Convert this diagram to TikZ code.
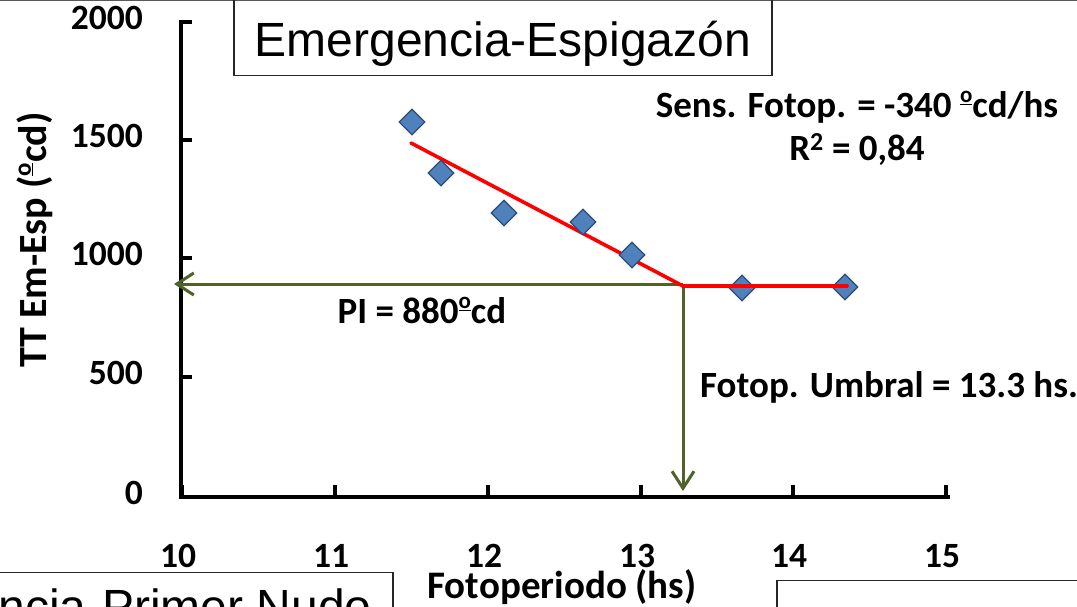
\documentclass[tikz,border=0pt]{standalone}
\usepackage{fontspec}
\setmainfont{Carlito}
\newfontfamily\arialfont{Liberation Sans}
\usetikzlibrary{shapes.geometric,arrows.meta}
\definecolor{ptblue}{HTML}{4F81BD}
\definecolor{ptedge}{HTML}{2C4D75}
\definecolor{olive}{HTML}{4F6228}
\definecolor{framegray}{HTML}{595959}
\newcommand\ordo{\raisebox{0.38em}{\scalebox{0.62}{\underline{o}}}}
\tikzset{
  pt/.style={diamond,fill=ptblue,draw=ptedge,line width=1.3pt,minimum width=26pt,minimum height=26pt,inner sep=0pt},
  axis/.style={line width=4pt,black},
  tick/.style={line width=3.5pt,black},
  ticklab/.style={font=\fontsize{35.5}{40}\selectfont\bfseries,inner sep=0pt},
  lab/.style={font=\fontsize{37}{43}\selectfont\bfseries,inner sep=0pt},
  fit/.style={line width=3.6pt,red},
  guide/.style={line width=3pt,olive,-{Straight Barb[length=17pt,width=22pt,line width=3pt]}},
  titlebox/.style={draw=black!85,line width=1.8pt},
  titletext/.style={font=\arialfont\fontsize{48}{56}\selectfont,inner sep=0pt}
}
\begin{document}
\begin{tikzpicture}[x=1pt,y=-1pt]
\useasboundingbox (0,0) rectangle (1077,606);
\clip (0,0) rectangle (1077,606);
\fill[white] (0,0) rectangle (1077,606);
% frame top
\draw[framegray,line width=1.5pt] (0,0.7) -- (1077,0.7);
% title box
\draw[titlebox] (234,-5) rectangle (772,75.5);
\node[titletext,anchor=base] (title) at (503,56) {Emergencia-Espigazón};
% bottom boxes
\draw[titlebox] (-10,572.5) rectangle (393,640);
\node[titletext,anchor=base east] (title2) at (372,623) {Emergencia-Primer Nudo};
\draw[titlebox] (777,580.5) rectangle (1100,640);
% axes
\coordinate (ytop) at (181,22);
\coordinate (orig) at (181,497);
\coordinate (xend) at (948,497);
\draw[axis,line cap=rect] (ytop) -- (orig) -- (xend);
% y ticks
\foreach \v/\yy in {2000/22,1500/140,1000/258,500/377,0/497}{
  \draw[tick] (181,\yy) -- (192,\yy);
  \node[ticklab,anchor=east] (yl\v) at (143,\yy-4) {\v};
}
% x ticks
\foreach \v/\xx in {10/182,11/335,12/488,13/641,14/793,15/946}{
  \draw[tick] (\xx,497) -- (\xx,485);
  \node[ticklab,anchor=base] (xl\v) at (\xx-4,567) {\v};
}
% axis titles
\node[lab,font=\fontsize{40}{44}\selectfont\bfseries,rotate=90,anchor=base] (ylab) at (46,240) {TT Em-Esp (\ordo cd)};
\node[lab,font=\fontsize{39}{44}\selectfont\bfseries,anchor=base] (xlab) at (562,598) {Fotoperiodo (hs)};
% fit line
\coordinate (f1) at (411,143);
\coordinate (knee) at (683,286);
\coordinate (f3) at (847,286);
% guides
\coordinate (g0) at (683,284);
\coordinate (yhit) at (174,284);
\coordinate (xhit) at (683,491);
\draw[guide] (g0) -- (yhit);
\draw[guide] (g0) -- (xhit);
\draw[fit,line cap=round] (f1) -- (knee) -- (f3);
% data points
\node[pt] (p1) at (412,122) {};
\node[pt] (p2) at (441,173) {};
\node[pt] (p3) at (504,213) {};
\node[pt] (p4) at (583,222) {};
\node[pt] (p5) at (632,255) {};
\node[pt] (p6) at (742,288) {};
\node[pt] (p7) at (845,287) {};
\draw[fit,line cap=round] (knee) -- (f3);
% labels
\node[lab,anchor=base] (sens) at (857,117) {Sens. Fotop. = -340 \ordo cd/hs};
\node[lab,anchor=base] (r2) at (857,160) {R\textsuperscript{2} = 0,84};
\node[lab,anchor=base] (pi) at (422,323) {PI = 880\ordo cd};
\node[lab,anchor=base west] (umb) at (700,397) {Fotop. Umbral = 13.3 hs.};
\end{tikzpicture}
\end{document}
